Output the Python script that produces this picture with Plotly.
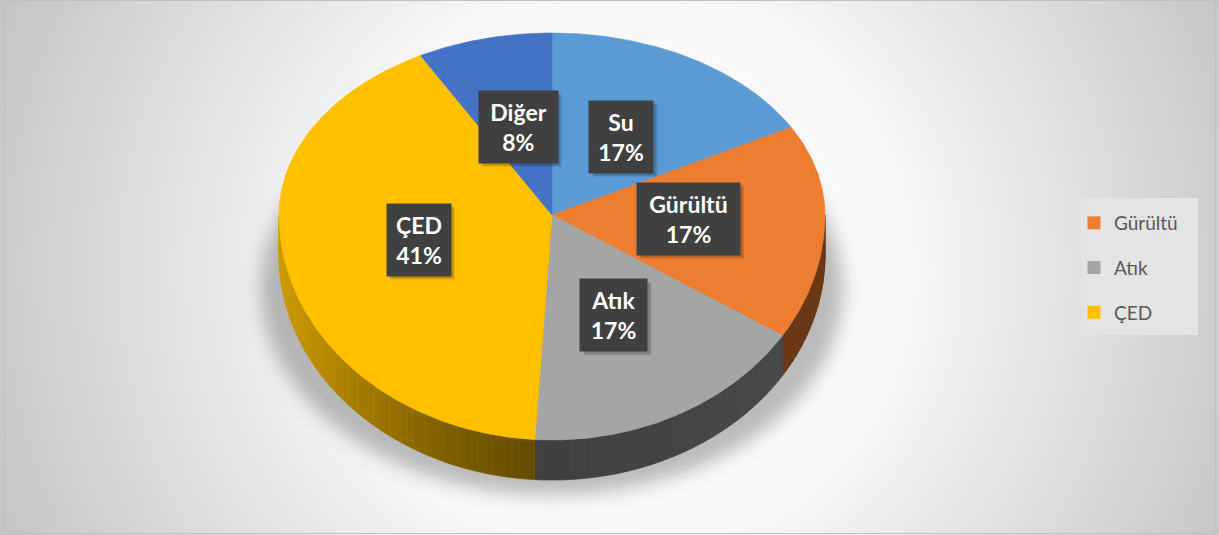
import base64
import numpy as np
import plotly.graph_objects as go

# ---- data -------------------------------------------------------------
CATEGORIES = ["Su", "Gürültü", "Atık", "ÇED", "Diğer"]
PERCENTS = [17, 17, 17, 41, 8]
COLORS = ["#5B9BD5", "#ED7D31", "#A5A5A5", "#FFC000", "#4472C4"]
LEGEND_ITEMS = ["Gürültü", "Atık", "ÇED"]

# ---- geometry of the tilted pie (pixel space of the figure) ------------
W, H = 1219, 535
CX, CY = 552, 215           # apex of the slices
RX = 273                    # horizontal radius
RY_BACK, RY_FRONT = 182, 225  # vertical radius behind / in front of the apex
DEPTH = 40                  # thickness of the disc
LABEL_R = 0.5               # labels sit half way out along each slice

LABEL_FONT = 23
LABEL_PAD = 9
LABEL_TEXT_H = 54


def rim(theta_deg, scale=1.0):
    """Point on the top rim for an angle measured clockwise from 12 o'clock."""
    t = np.radians(np.asarray(theta_deg, dtype=float))
    c = np.cos(t)
    ry = np.where(c >= 0, RY_BACK, RY_FRONT)
    return CX + scale * RX * np.sin(t), CY - scale * ry * c


def hex_rgb(h):
    h = h.lstrip("#")
    return tuple(int(h[i:i + 2], 16) for i in (0, 2, 4))


def side_shade(color, theta_deg):
    """Darker tone for the disc wall, lit from the left."""
    s = np.sin(np.radians(theta_deg))
    f = 0.39 + 0.42 * max(0.0, -s) ** 1.4 + 0.06 * max(0.0, s)
    r, g, b = hex_rgb(color)
    return f"rgb({int(r * f)},{int(g * f)},{int(b * f)})"


total = float(sum(PERCENTS))
bounds = np.concatenate([[0.0], np.cumsum(PERCENTS) / total * 360.0])

fig = go.Figure()

# ---- disc wall (only the front half is visible) ------------------------
for i, color in enumerate(COLORS):
    lo, hi = max(bounds[i], 90.0), min(bounds[i + 1], 270.0)
    if lo >= hi:
        continue
    n = int(np.ceil((hi - lo) / 1.5))
    edges = np.linspace(lo, hi, n + 1)
    for a, b in zip(edges[:-1], edges[1:]):
        th = np.linspace(a, b, 4)
        xs, ys = rim(th)
        px = np.concatenate([xs, xs[::-1], xs[:1]])
        py = np.concatenate([ys, ys[::-1] + DEPTH, ys[:1]])
        c = side_shade(color, (a + b) / 2)
        fig.add_trace(go.Scatter(
            x=px, y=py, mode="lines", fill="toself", fillcolor=c,
            line=dict(color=c, width=0.8), hoverinfo="skip", showlegend=False))

# ---- top faces of the slices -------------------------------------------
for i, (cat, color) in enumerate(zip(CATEGORIES, COLORS)):
    th = np.linspace(bounds[i], bounds[i + 1], int(bounds[i + 1] - bounds[i]) * 2 + 2)
    xs, ys = rim(th)
    px = np.concatenate([[CX], xs, [CX]])
    py = np.concatenate([[CY], ys, [CY]])
    fig.add_trace(go.Scatter(
        x=px, y=py, mode="lines", fill="toself", fillcolor=color,
        line=dict(color=color, width=0.6), name=cat,
        hoverinfo="name", showlegend=False))

# ---- legend entries ------------------------------------------------------
for cat in LEGEND_ITEMS:
    color = COLORS[CATEGORIES.index(cat)]
    fig.add_trace(go.Scatter(
        x=[None], y=[None], mode="markers", name=cat, legendgroup=cat,
        marker=dict(symbol="square", size=13, color=color,
                    line=dict(width=0))))

# ---- data labels (dark boxes with a soft drop shadow) -------------------
annotations = []
shadow_shapes = []
for i, (cat, p) in enumerate(zip(CATEGORIES, PERCENTS)):
    mid = (bounds[i] + bounds[i + 1]) / 2
    lx, ly = rim(mid, LABEL_R)
    lx, ly = float(lx), float(ly)
    lines = [cat, f"{p}%"]
    text_w = max(46, int(round(12.2 * max(len(s) for s in lines))))
    box_w = text_w + 2 * LABEL_PAD
    box_h = LABEL_TEXT_H + 2 * LABEL_PAD
    for k, alpha in ((4, 0.10), (3, 0.14)):
        shadow_shapes.append(dict(
            type="rect", xref="x", yref="y", layer="above",
            x0=lx - box_w / 2 + k, x1=lx + box_w / 2 + k,
            y0=ly - box_h / 2 + k, y1=ly + box_h / 2 + k,
            fillcolor=f"rgba(0,0,0,{alpha})", line=dict(width=0)))
    annotations.append(dict(
        x=lx, y=ly, xref="x", yref="y", text="<br>".join(lines),
        showarrow=False, borderpad=LABEL_PAD, align="center", valign="middle",
        width=text_w, height=LABEL_TEXT_H, bgcolor="#404040",
        font=dict(family="Lato", size=LABEL_FONT, weight="bold", color="#ffffff")))

# ---- background: radial gradient plus soft floor shadow ----------------
shadow_cx, shadow_cy = CX, CY + (RY_FRONT - RY_BACK) / 2 + DEPTH + 12
svg = f"""<svg xmlns="http://www.w3.org/2000/svg" width="{W}" height="{H}" viewBox="0 0 {W} {H}" preserveAspectRatio="none">
<defs>
<radialGradient id="bg" gradientUnits="userSpaceOnUse" cx="620" cy="270" r="680">
<stop offset="0" stop-color="#ffffff"/>
<stop offset="0.42" stop-color="#f7f7f7"/>
<stop offset="1" stop-color="#c3c3c3"/>
</radialGradient>
<filter id="soft" x="-20%" y="-20%" width="140%" height="140%">
<feGaussianBlur stdDeviation="9"/>
</filter>
</defs>
<rect width="{W}" height="{H}" fill="url(#bg)"/>
<ellipse cx="{shadow_cx}" cy="{shadow_cy}" rx="{RX + 18}" ry="{(RY_BACK + RY_FRONT) / 2 + 3}" fill="#000000" fill-opacity="0.25" filter="url(#soft)"/>
</svg>"""
svg_uri = "data:image/svg+xml;base64," + base64.b64encode(svg.encode("utf-8")).decode("ascii")

fig.update_layout(
    width=W, height=H,
    margin=dict(l=0, r=0, t=0, b=0),
    paper_bgcolor="rgba(0,0,0,0)",
    plot_bgcolor="rgba(0,0,0,0)",
    xaxis=dict(range=[0, W], visible=False, fixedrange=True),
    yaxis=dict(range=[H, 0], visible=False, fixedrange=True),
    images=[dict(source=svg_uri, xref="paper", yref="paper", x=0, y=1,
                 sizex=1, sizey=1, xanchor="left", yanchor="top",
                 sizing="stretch", layer="below")],
    shapes=[
        # legend panel
        dict(type="rect", xref="x", yref="y", x0=1081, x1=1198, y0=198, y1=335,
             fillcolor="#e4e4e4", line=dict(width=0), layer="below"),
        # chart border
        dict(type="rect", xref="x", yref="y", x0=4.5, x1=1215.5, y0=0.5, y1=533.5,
             fillcolor="rgba(0,0,0,0)", line=dict(color="#bfbfbf", width=1)),
    ] + shadow_shapes,
    annotations=annotations,
    showlegend=True,
    legend=dict(x=1074 / W, y=1 - 204 / H, xanchor="left", yanchor="top",
                bgcolor="rgba(0,0,0,0)", borderwidth=0,
                font=dict(family="Lato", size=19, color="#595959"),
                traceorder="grouped", tracegroupgap=17, itemwidth=30),
)

fig.write_html("out.html")
